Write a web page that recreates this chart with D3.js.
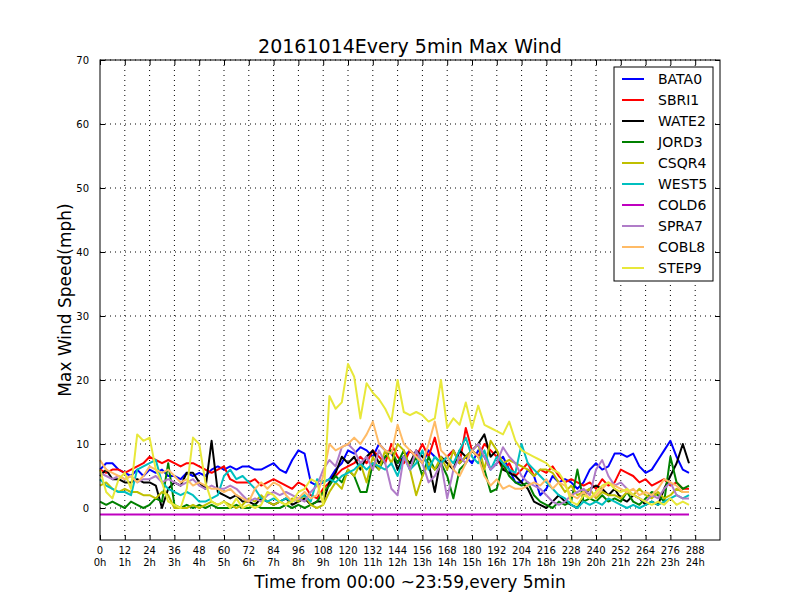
<!DOCTYPE html>
<html>
<head>
<meta charset="utf-8">
<script src="https://cdn.jsdelivr.net/npm/d3@7"></script>
<style>
  body { margin: 0; background: #fff; }
  svg { font-family: "DejaVu Sans", sans-serif; }
</style>
</head>
<body>
<div id="chart"></div>
<script>
// one sample every 3 steps of 5 min (index 0..285)
const step = 3;
const names = ["BATA0", "SBRI1", "WATE2", "JORD3", "CSQR4", "WEST5", "COLD6", "SPRA7", "COBL8", "STEP9"];
const colors = ["#0000ff", "#ff0000", "#000000", "#008000", "#bfbf00", "#00bfbf", "#bf00bf", "#b07cc8", "#ffbb66", "#e8e83a"];

const bata0 = [6,7,7,6, 5.5,5,6,5, 6,5.5,6,5, 5,4.5,5.5,5, 5.5,5,6,6.5, 6,6.5,6,6.5, 6.5,6,6,6.5, 7,6,5.5,7.5,
  9,8.5,4,3.5, 4,4.5,6,7, 9,8.5,9.5,9, 8,10,9,8.5, 7,8,9,8, 7,9,8,7, 8,9,7,8, 7,9,8,6,
  7,8,6,4, 4,6,5,2, 3,5,4,4.5, 4,3,4,6, 7,6,6.5,8.5, 8.5,8,8.5,6.5, 5.5,6,7.5,9, 10.5,8,6,5.5];
const sbri1 = [6,5.5,6,6, 5.5,6,6.5,7, 8,7.5,7,7.5, 7,6.5,7,7, 6.5,6,5.5,6, 6.5,4.5,4,4, 4,4.5,3.5,4, 4.5,4,3.5,3,
  4,3.5,2,1.5, 3,4,5,6, 6.5,7,8,7, 9,8,7,10, 8,7,9,8, 10,8,11,7, 8,9,7,12.5, 9,8,10,9,
  8,6,7,5, 6,7,5,6, 5.5,6.5,5,4, 4.5,4,3.5,4, 3,4.5,3.5,4, 6,5.5,5,4, 4.5,3.5,4,4.5, 3.5,4,3,3];
const wate2 = [5,6,4.5,4.5, 4,4,4.5,4, 4,3.5,0,3, 4,3.5,5.5,5.5, 4,3,10.5,2.5, 2,1.5,2,1, 1,0.5,1.5,1, 0.5,1,1.5,0.5,
  1,1.5,0.5,1, 1,4,5.5,8, 7,8,6,8, 9,7,8,9, 6,8,7,9, 8,7,2.5,8, 7,6,9,8, 9,10,11.5,8,
  9,6,5.5,5, 4,3,1,0.5, 0,1,2,1, 0.5,0,2,3, 3.5,3,2,3, 1.5,1,2,1.5, 0.5,1,0.5,3, 5,7,10,7];
const jord3 = [1,0.5,1,0.5, 0,1,0.5,0, 0.5,1.5,1,7, 0.5,0,0.5,0, 0.5,0,0.5,0, 0,0,0.5,0, 0,0.5,0,0, 0,0,0.5,0,
  0.5,0,0.5,1, 2.5,3.5,5,4, 6,5,2.5,2.5, 7,6,8,9, 7,9,6,8, 5,8,6,7, 5,1.5,6,7, 9,8,6,2.5,
  3,7,5,4, 3.5,4,2,1, 0.5,0,1,0.5, 1,6,1,1.5, 1,2,1,1.5, 1,2.5,1,0.5, 1.5,2.5,2,1, 8,4,3,3.5];
const csqr4 = [3.5,4,3,2.5, 3,2.5,2.5,2, 2,1.5,2.5,2, 0,0,0,0.5, 0,0.5,1,0.5, 1,0.5,0,0.5, 1.5,1,2,1, 0.5,1,0.5,1.5,
  1,2,0.5,0, 0.5,2.5,4,3, 6,5,7,4, 8,6,9,7, 10,9,6,2, 5,7,6,8, 6,9,7,8, 9,10,6,10.5,
  9,7,7.5,7, 6.5,6,5,6, 6,5.5,4,2.5, 3.5,2,2.5,3, 1.5,2.5,2,2, 1.5,2.5,2,3, 2,1.5,2.5,1.5, 2,3,2.5,2.5];
const west5 = [4.5,3.5,3,2.5, 2.5,2,6,6.5, 7,7.5,4,3, 2.5,2,2.5,2, 1,1,1.5,2, 5,6,4.5,5, 4,3,1.5,1, 1.5,1,1.5,1,
  1.5,2,1,4.5, 4,4.5,4,5, 5.5,6,7,6, 7,6.5,6,7, 5,8,6,7, 9,6,8,7, 8,7,9,11, 8,7,9,6,
  8,7,6,5.5, 10,7,6,5, 4,3,2,1.5, 0.5,0,1,0.5, 1,0.5,1.5,1, 0.5,0,0.5,0, 0.5,1,0.5,1, 1.5,2,1.5,2];
const cold6 = [-1,-1,-1,-1, -1,-1,-1,-1, -1,-1,-1,-1, -1,-1,-1,-1, -1,-1,-1,-1, -1,-1,-1,-1, -1,-1,-1,-1, -1,-1,-1,-1,
  -1,-1,-1,-1, -1,-1,-1,-1, -1,-1,-1,-1, -1,-1,-1,-1, -1,-1,-1,-1, -1,-1,-1,-1, -1,-1,-1,-1, -1,-1,-1,-1,
  -1,-1,-1,-1, -1,-1,-1,-1, -1,-1,-1,-1, -1,-1,-1,-1, -1,-1,-1,-1, -1,-1,-1,-1, -1,-1,-1,-1, -1,-1,-1,-1];
const spra7 = [5.5,5,4.5,5, 4.5,5,4,4.5, 4.5,5,4,4.5, 4,3.5,4,4.5, 3.5,3,3.5,3, 3,3.5,3,2, 1,1.5,1,2, 2.5,2,2.5,2,
  1.5,1,2.5,3.5, 6,7.5,6.5,9.5, 10,9,7,8, 6,9,7,3, 2,8,6,9, 7,4,5,7, 1.5,6,8,7, 9,10,8,6,
  7,9.5,8,7, 5,4,3.5,3, 2,1,0.5,1, 2,2.5,3,2, 6,7.5,5,3.5, 4,3,2,1.5, 1,2,1.5,3, 4,2,1.5,1.5];
const cobl8 = [7.5,6,5.5,5, 4.5,5,4,5, 6.5,6,5.5,6, 5,4,4.5,3.5, 4,3.5,3,3, 2.5,3,2,1.5, 1,3,4,3, 4,3.5,2,1,
  1.5,2.5,1.5,2, 5,10,9,9.5, 10,11,10,11.5, 13.5,10,9,8.5, 13,10,9,8, 7,10,13.5,9, 8,6,5,7, 9,8,5,3.5,
  4.5,3,3.5,3, 3,3.5,4,3.5, 4.5,3,4,3.5, 2,1.5,2.5,1.5, 2,3,4,3.5, 3,2.5,3,2, 2.5,2,3,4.5, 4,3.5,2.5,2.5];
const step9 = [6,2.5,1.5,4.5, 5.5,3,11.5,10.5, 11,6,4,1, 0.5,0,3,11, 10,4,1,0.5, 1,0,1.5,0, 0.5,0,0.5,2.5, 2,1,0.5,1,
  2.5,3,4.5,4, 0.5,17.5,15.5,16.5, 22.5,20.5,14,19.5, 18,17,15.5,13.5, 20,15,14.5,15, 14.5,13.5,14,20, 12.5,14,13,16.5, 12.5,16,13,12.5,
  12,11.5,13.5,10.5, 9,8.5,8,7.5, 7,6,5.5,4, 1,0.5,2,1.5, 2.5,3.5,4,3, 2.5,3,2,1.5, 1,0.5,1,0.5, 1.5,0.5,1,0.5];

const series = [bata0, sbri1, wate2, jord3, csqr4, west5, cold6, spra7, cobl8, step9];
const xTicks = d3.range(0, 289, 12);
const yTicks = [0, 10, 20, 30, 40, 50, 60, 70];

const width = 800, height = 600;
const pLeft = 100, pRight = 720, pTop = 60, pBottom = 540;

const svg = d3.select("#chart").append("svg")
  .attr("width", width)
  .attr("height", height);

const x = d3.scaleLinear().domain([0, 300]).range([pLeft, pRight]);
const y = d3.scaleLinear().domain([-5, 70]).range([pBottom, pTop]);

// grid
svg.append("g").selectAll("line")
  .data(xTicks.filter(d => d > 0)).enter()
  .append("line")
  .attr("x1", d => x(d)).attr("x2", d => x(d))
  .attr("y1", pTop).attr("y2", pBottom)
  .attr("stroke", "#000").attr("stroke-width", 1)
  .attr("stroke-dasharray", "1,4");
svg.append("g").selectAll("line")
  .data(yTicks).enter()
  .append("line")
  .attr("x1", pLeft).attr("x2", pRight)
  .attr("y1", d => y(d)).attr("y2", d => y(d))
  .attr("stroke", "#000").attr("stroke-width", 1)
  .attr("stroke-dasharray", "1,4");

// lines
const line = d3.line()
  .x((d, i) => x(i * step))
  .y(d => y(d));

svg.append("g").selectAll("path")
  .data(series).enter()
  .append("path")
  .attr("d", d => line(d))
  .attr("fill", "none")
  .attr("stroke", (d, i) => colors[i])
  .attr("stroke-width", 2)
  .attr("stroke-linejoin", "round");

// axes with inward ticks
const xAxis = svg.append("g")
  .attr("transform", "translate(0," + pBottom + ")")
  .call(d3.axisBottom(x).tickValues(xTicks).tickSizeInner(-5).tickSizeOuter(0).tickFormat(""));
xAxis.select(".domain").remove();

const xTop = svg.append("g")
  .attr("transform", "translate(0," + pTop + ")")
  .call(d3.axisTop(x).tickValues(xTicks).tickSizeInner(-5).tickSizeOuter(0).tickFormat(""));
xTop.select(".domain").remove();

const yAxis = svg.append("g")
  .attr("transform", "translate(" + pLeft + ",0)")
  .call(d3.axisLeft(y).tickValues(yTicks).tickSizeInner(-5).tickSizeOuter(0).tickPadding(11));
yAxis.select(".domain").remove();
yAxis.selectAll("text").attr("font-size", 10).attr("font-family", "DejaVu Sans").attr("fill", "#000");

const yRight = svg.append("g")
  .attr("transform", "translate(" + pRight + ",0)")
  .call(d3.axisRight(y).tickValues(yTicks).tickSizeInner(-5).tickSizeOuter(0).tickFormat(""));
yRight.select(".domain").remove();

svg.selectAll(".tick line").attr("stroke", "#000");

// two-line x tick labels
const xLab = svg.append("g").selectAll("text")
  .data(xTicks).enter()
  .append("text")
  .attr("x", d => x(d))
  .attr("text-anchor", "middle")
  .attr("font-size", 10)
  .attr("fill", "#000");
xLab.append("tspan").attr("x", d => x(d)).attr("y", pBottom + 14).text(d => d);
xLab.append("tspan").attr("x", d => x(d)).attr("y", pBottom + 26).text(d => (d / 12) + "h");

// frame
svg.append("rect")
  .attr("x", pLeft).attr("y", pTop)
  .attr("width", pRight - pLeft).attr("height", pBottom - pTop)
  .attr("fill", "none").attr("stroke", "#000").attr("stroke-width", 1);

// titles
svg.append("text")
  .attr("x", (pLeft + pRight) / 2).attr("y", 53)
  .attr("text-anchor", "middle")
  .attr("font-size", 19)
  .text("20161014Every 5min Max Wind");
svg.append("text")
  .attr("x", (pLeft + pRight) / 2).attr("y", 588)
  .attr("text-anchor", "middle")
  .attr("font-size", 17)
  .text("Time from 00:00 ~23:59,every 5min");
svg.append("text")
  .attr("transform", "translate(71," + ((pTop + pBottom) / 2) + ") rotate(-90)")
  .attr("text-anchor", "middle")
  .attr("font-size", 17)
  .text("Max Wind Speed(mph)");

// legend
const lg = svg.append("g").attr("transform", "translate(614,67)");
lg.append("rect")
  .attr("width", 99).attr("height", 214)
  .attr("fill", "#fff").attr("stroke", "#000").attr("stroke-width", 1);
const item = lg.selectAll("g.item")
  .data(names).enter()
  .append("g")
  .attr("transform", (d, i) => "translate(0," + (12 + i * 21) + ")");
item.append("line")
  .attr("x1", 8).attr("x2", 30)
  .attr("stroke", (d, i) => colors[i]).attr("stroke-width", 2);
item.append("text")
  .attr("x", 44).attr("y", 5)
  .attr("font-size", 14)
  .text(d => d);
</script>
</body>
</html>
